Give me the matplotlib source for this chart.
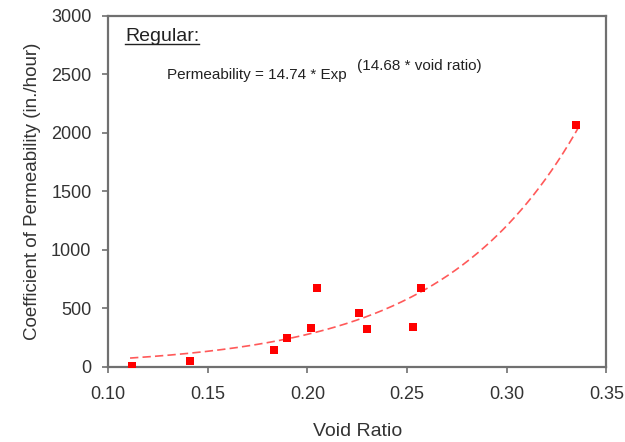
import matplotlib.pyplot as plt
import numpy as np

plt.rcParams['font.family'] = ['Liberation Sans', 'DejaVu Sans']

void_ratio = [0.112, 0.141, 0.183, 0.190, 0.202, 0.205, 0.226, 0.230, 0.253, 0.257, 0.335]
permeability = [10, 50, 140, 250, 330, 670, 460, 320, 345, 670, 2065]

fit_a = 14.74
fit_b = 14.68

fig = plt.figure(figsize=(6.25, 4.42), dpi=100)
ax = fig.add_axes([0.173, 0.170, 0.797, 0.794])

x = np.linspace(0.111, 0.336, 300)
ax.plot(x, fit_a * np.exp(fit_b * x), color='#ff3030', lw=1.2, dashes=(5, 2.5), alpha=0.8)
ax.scatter(void_ratio, permeability, marker='s', s=30, color='#ff0000', zorder=3, linewidths=0)

ax.set_xlim(0.10, 0.35)
ax.set_ylim(0, 3000)
ax.set_xticks([0.10, 0.15, 0.20, 0.25, 0.30, 0.35])
ax.set_yticks([0, 500, 1000, 1500, 2000, 2500, 3000])
ax.xaxis.set_major_formatter(plt.FormatStrFormatter('%.2f'))

for s in ax.spines.values():
    s.set_color('#707070')
    s.set_linewidth(1.6)
ax.tick_params(direction='out', length=4, width=1.2, color='#707070', labelsize=13, labelcolor='#333333')
ax.tick_params(axis='x', pad=10)
ax.tick_params(axis='y', pad=8)

ax.set_xlabel('Void Ratio', fontsize=14, color='#333333', labelpad=14)
ax.set_ylabel('Coefficient of Permeability (in./hour)', fontsize=13.5, color='#333333', labelpad=7)

ax.text(0.1085, 2785, 'Regular:', fontsize=14, color='#222222')
ax.plot([0.1085, 0.1455], [2762, 2762], color='#222222', lw=1)
ax.text(0.1295, 2460, 'Permeability = 14.74 * Exp', fontsize=11, color='#222222')
ax.text(0.225, 2540, '(14.68 * void ratio)', fontsize=11, color='#222222')

fig.savefig('out.png', dpi=100)
